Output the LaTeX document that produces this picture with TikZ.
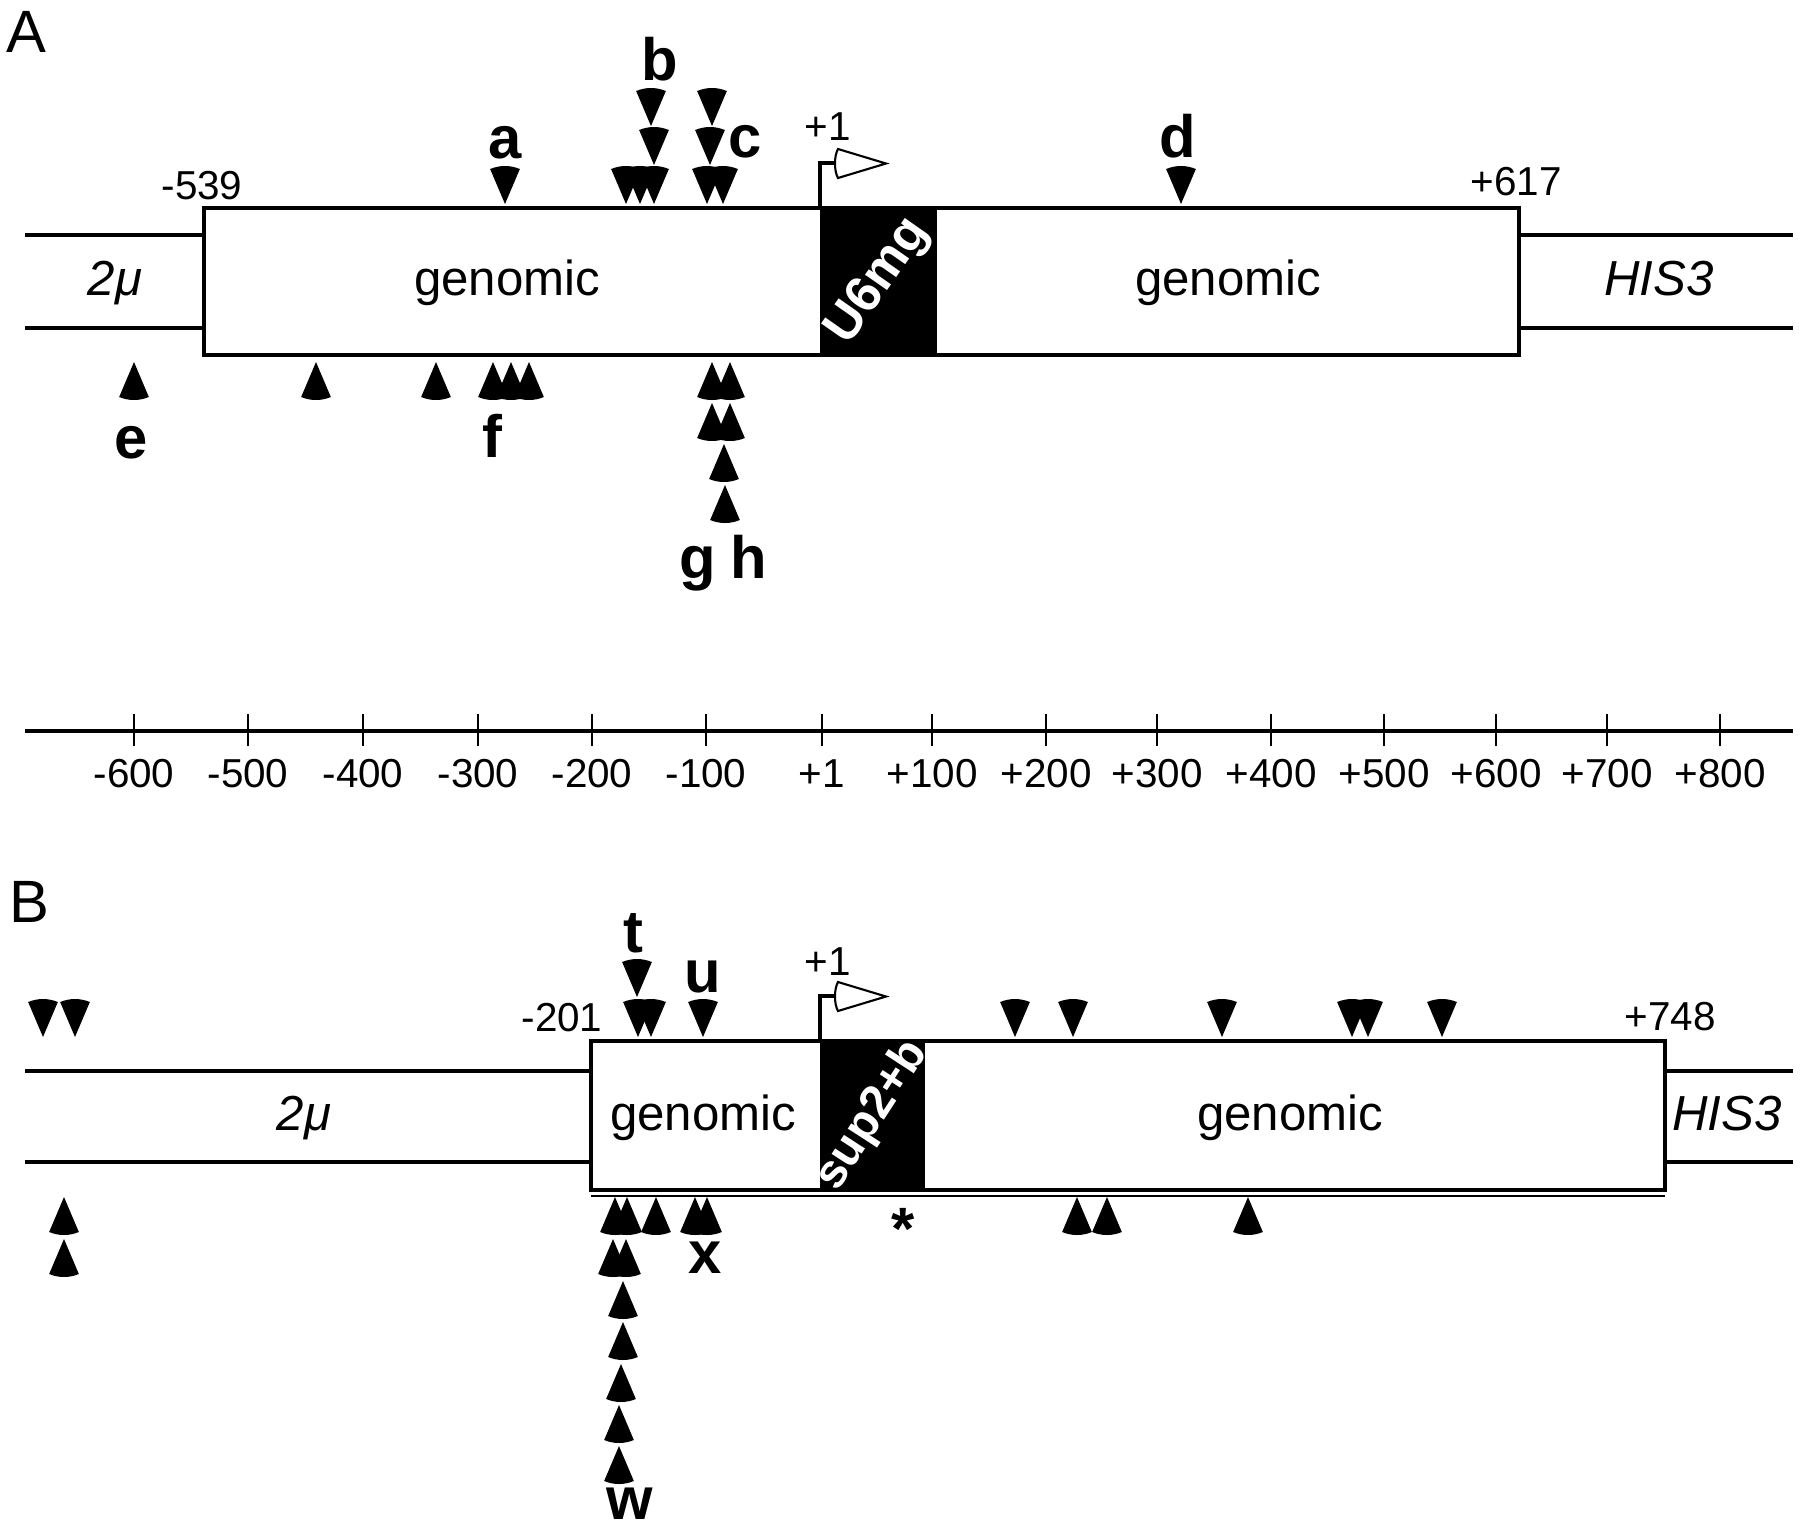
\documentclass[tikz,border=0pt]{standalone}
\usepackage{fontspec}
\setmainfont{Liberation Sans}
\usepackage{tikz}
\usetikzlibrary{calc,positioning}
\tikzset{
    seglbl/.style={font=\fontsize{14}{16}\selectfont,anchor=base,inner sep=0pt},
    vecname/.style={font=\fontsize{14}{16}\selectfont\itshape,anchor=base,inner sep=0pt},
    poslbl/.style={font=\fontsize{11.5}{13}\selectfont,anchor=base,inner sep=0pt},
    sitelbl/.style={font=\fontsize{17}{19}\selectfont\bfseries,anchor=base,inner sep=0pt},
    panellbl/.style={font=\fontsize{17}{19}\selectfont,anchor=base west,inner sep=0pt},
    insertlbl/.style={font=\fontsize{14}{16}\selectfont\bfseries,text=white,rotate=55,inner sep=0pt},
    genebox/.style={draw=black,line width=1.1pt},
    vecline/.style={line width=1.1pt},
    dnmark/.pic={\fill (0,0) -- (67:0.38) arc[start angle=67,end angle=113,radius=0.38] -- cycle;},
    upmark/.pic={\fill (0,0) -- (-67:0.38) arc[start angle=-67,end angle=-113,radius=0.38] -- cycle;},
    tssflag/.pic={
      \draw[line width=0.9pt] (0,0) -- (0,0.45) -- (0.18,0.45);
      \filldraw[fill=white,line width=0.6pt]
        (0.18,0.30) -- (0.66,0.445) -- (0.18,0.59)
        .. controls (0.14,0.52) and (0.14,0.37) .. (0.18,0.30) -- cycle;}
}

\begin{document}
\begin{tikzpicture}
  \useasboundingbox (0,0) rectangle (18,-15.29);

  % A 图
  \node[panellbl] (labA) at (0.06,-0.52) {A};

  \coordinate (A1) at (2.04,-2.08);
  \coordinate (A2) at (15.19,-3.55);
  \coordinate (Ain1) at (8.20,-2.08);
  \coordinate (Ain2) at (9.37,-3.55);

  % 载体
  \draw[vecline] (0.25,-2.35) -- (A1|-0,-2.35);
  \draw[vecline] (0.25,-3.28) -- (A1|-0,-3.28);
  \draw[vecline] (A2|-0,-2.35) -- (17.93,-2.35);
  \draw[vecline] (A2|-0,-3.28) -- (17.93,-3.28);

  % 基因组片段
  \draw[genebox] (A1) rectangle (A2);
  \fill[black] (Ain1) rectangle (Ain2);
  \pic at (Ain1) {tssflag};

  \node[vecname] (A2mu) at (1.15,-2.95) {2μ};
  \node[seglbl] (Agen1) at (5.07,-2.95) {genomic};
  \node[seglbl] (Agen2) at (12.28,-2.95) {genomic};
  \node[vecname] (Ahis) at (16.59,-2.95) {HIS3};
  \node[insertlbl,font=\fontsize{14.5}{16}\selectfont\bfseries] (Ains)
    at ($(Ain1)!0.5!(Ain2)$) {U6mg};

  \node[poslbl] (Aleft) at (2.02,-1.99) {-539};
  \node[poslbl] (Aright) at (15.16,-1.95) {+617};
  \node[poslbl] (Atss) at (8.28,-1.40) {+1};

  % 插入位点
  \foreach \x/\y in {5.05/2.04, 6.26/2.04, 6.40/2.04, 6.54/2.04, 7.07/2.04,
                     7.23/2.04, 11.81/2.04, 6.54/1.65, 7.10/1.65, 6.51/1.26, 7.12/1.26}{
    \pic at (\x,-\y) {dnmark};
  }
  \foreach \x/\y in {1.34/3.62, 3.16/3.62, 4.36/3.62, 4.93/3.62, 5.11/3.62, 5.29/3.62,
                     7.12/3.62, 7.30/3.62, 7.12/4.03, 7.30/4.03, 7.24/4.44, 7.25/4.85}{
    \pic at (\x,-\y) {upmark};
  }

  \node[sitelbl] (sa) at (5.05,-1.58) {a};
  \node[sitelbl] (sb) at (6.60,-0.80) {b};
  \node[sitelbl] (sc) at (7.45,-1.57) {c};
  \node[sitelbl] (sd) at (11.78,-1.57) {d};
  \node[sitelbl] (se) at (1.31,-4.58) {e};
  \node[sitelbl] (sf) at (4.92,-4.57) {f};
  \node[sitelbl] (sg) at (6.98,-5.78) {g};
  \node[sitelbl] (sh) at (7.49,-5.78) {h};

  % 刻度
  \draw[line width=1.3pt] (0.25,-7.31) -- (17.93,-7.31);
  \foreach \x/\t [count=\i] in {1.34/-600, 2.48/-500, 3.63/-400, 4.78/-300, 5.92/-200,
                                7.06/-100, 8.22/+1, 9.32/+100, 10.46/+200, 11.57/+300,
                                12.71/+400, 13.84/+500, 14.96/+600, 16.07/+700, 17.20/+800}{
    \draw[line width=0.6pt] (\x,-7.14) -- (\x,-7.46);
    \node[poslbl] (tick\i) at (\x,-7.87) {\t};
  }

  % B 图
  \node[panellbl] (labB) at (0.09,-9.22) {B};

  \coordinate (B1) at (5.91,-10.41);
  \coordinate (B2) at (16.65,-11.90);
  \coordinate (Bin1) at (8.20,-10.41);
  \coordinate (Bin2) at (9.25,-11.90);

  \draw[vecline] (0.25,-10.71) -- (B1|-0,-10.71);
  \draw[vecline] (0.25,-11.62) -- (B1|-0,-11.62);
  \draw[vecline] (B2|-0,-10.71) -- (17.93,-10.71);
  \draw[vecline] (B2|-0,-11.62) -- (17.93,-11.62);

  \draw[genebox] (B1) rectangle (B2);
  \fill[black] (Bin1) rectangle (Bin2);
  \draw[line width=0.4pt] (5.91,-11.96) -- (16.65,-11.96);
  \pic at (Bin1) {tssflag};

  \node[vecname] (B2mu) at (3.04,-11.30) {2μ};
  \node[seglbl] (Bgen1) at (7.03,-11.30) {genomic};
  \node[seglbl] (Bgen2) at (12.90,-11.30) {genomic};
  \node[vecname] (Bhis) at (17.27,-11.30) {HIS3};
  \node[insertlbl,rotate=2,font=\fontsize{13.5}{15}\selectfont\bfseries] (Bins)
    at ($(Bin1)!0.5!(Bin2)$) {sup2+b};

  \node[poslbl] (Bleft) at (5.62,-10.31) {-201};
  \node[poslbl] (Bright) at (16.70,-10.30) {+748};
  \node[poslbl] (Btss) at (8.28,-9.75) {+1};

  \foreach \x/\y in {0.43/10.37, 0.75/10.37, 6.38/10.37, 6.51/10.37, 7.03/10.37,
                     10.15/10.37, 10.73/10.37, 12.22/10.37, 13.52/10.37, 13.68/10.37,
                     14.42/10.37, 6.37/9.97}{
    \pic at (\x,-\y) {dnmark};
  }
  \foreach \x/\y in {0.64/11.97, 6.15/11.97, 6.27/11.97, 6.56/11.97, 6.95/11.97,
                     7.07/11.97, 10.77/11.97, 11.07/11.97, 12.48/11.97,
                     0.64/12.39, 6.13/12.39, 6.26/12.39, 6.23/12.81, 6.23/13.22,
                     6.21/13.64, 6.19/14.05, 6.19/14.46}{
    \pic at (\x,-\y) {upmark};
  }

  \node[sitelbl] (st) at (6.33,-9.52) {t};
  \node[sitelbl] (su) at (7.03,-9.92) {u};
  \node[sitelbl] (sx) at (7.05,-12.73) {x};
  \node[sitelbl] (sw) at (6.30,-15.19) {w};
  \node[sitelbl] (star) at (9.03,-12.49) {*};
\end{tikzpicture}
\end{document}
